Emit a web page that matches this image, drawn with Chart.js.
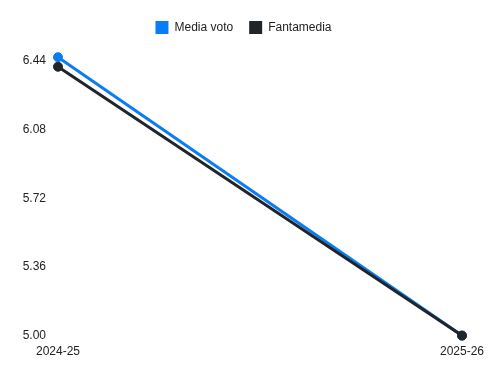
<!DOCTYPE html>
<html>
<head>
<meta charset="utf-8">
<script src="https://cdn.jsdelivr.net/npm/chart.js@4/dist/chart.umd.min.js"></script>
<style>
html,body{margin:0;padding:0;background:#fff;}
#wrap{width:500px;height:375px;position:relative;}
</style>
</head>
<body>
<div id="wrap"><canvas id="c"></canvas></div>
<script>
const seasons = ["2024-25", "2025-26"];
const mediaVoto = [6.46, 5.00];
const fantamedia = [6.41, 5.00];
const yTicks = [5.00, 5.36, 5.72, 6.08, 6.44];

Chart.defaults.font.family = "'Liberation Sans', Arial, sans-serif";
Chart.defaults.font.size = 12;
Chart.defaults.color = "#222";

const legendMargin = {
  id: "legendMargin",
  beforeInit(chart) {
    const fit = chart.legend.fit;
    chart.legend.fit = function () {
      fit.call(this);
      this.height += 17;
    };
  }
};

new Chart(document.getElementById("c"), {
  type: "line",
  plugins: [legendMargin],
  data: {
    labels: seasons,
    datasets: [
      {
        label: "Media voto",
        data: mediaVoto,
        borderColor: "#0a7cf5",
        backgroundColor: "#0a7cf5",
        borderWidth: 3,
        pointRadius: 4.5,
        pointBorderWidth: 1,
        pointHoverRadius: 4.5,
        order: 1,
        clip: false
      },
      {
        label: "Fantamedia",
        data: fantamedia,
        borderColor: "#212529",
        backgroundColor: "#212529",
        borderWidth: 3,
        pointRadius: 4.5,
        pointBorderWidth: 1,
        pointHoverRadius: 4.5,
        order: 0,
        clip: false
      }
    ]
  },
  options: {
    responsive: true,
    maintainAspectRatio: false,
    animation: false,
    layout: { padding: { top: 5, right: 13, bottom: 15, left: 0 } },
    plugins: {
      legend: {
        position: "top",
        labels: {
          boxWidth: 13,
          boxHeight: 13,
          padding: 16,
          generateLabels: (chart) => {
            const items = Chart.defaults.plugins.legend.labels.generateLabels(chart);
            items.forEach(it => { it.lineWidth = 0; });
            return items.sort((a, b) => a.datasetIndex - b.datasetIndex);
          }
        }
      },
      tooltip: { enabled: false }
    },
    scales: {
      x: {
        grid: { display: false },
        border: { display: false },
        ticks: { padding: 1, maxRotation: 0 },
        afterFit: (axis) => { axis.paddingLeft = 0; axis.paddingRight = 38; }
      },
      y: {
        min: 5.00,
        max: 6.44,
        grid: { display: false },
        border: { display: false },
        afterBuildTicks: (axis) => { axis.ticks = yTicks.map(v => ({ value: v })); },
        afterFit: (axis) => { axis.width = 58; },
        ticks: {
          padding: 4,
          callback: (v) => Number(v).toFixed(2)
        }
      }
    }
  }
});
</script>
</body>
</html>
